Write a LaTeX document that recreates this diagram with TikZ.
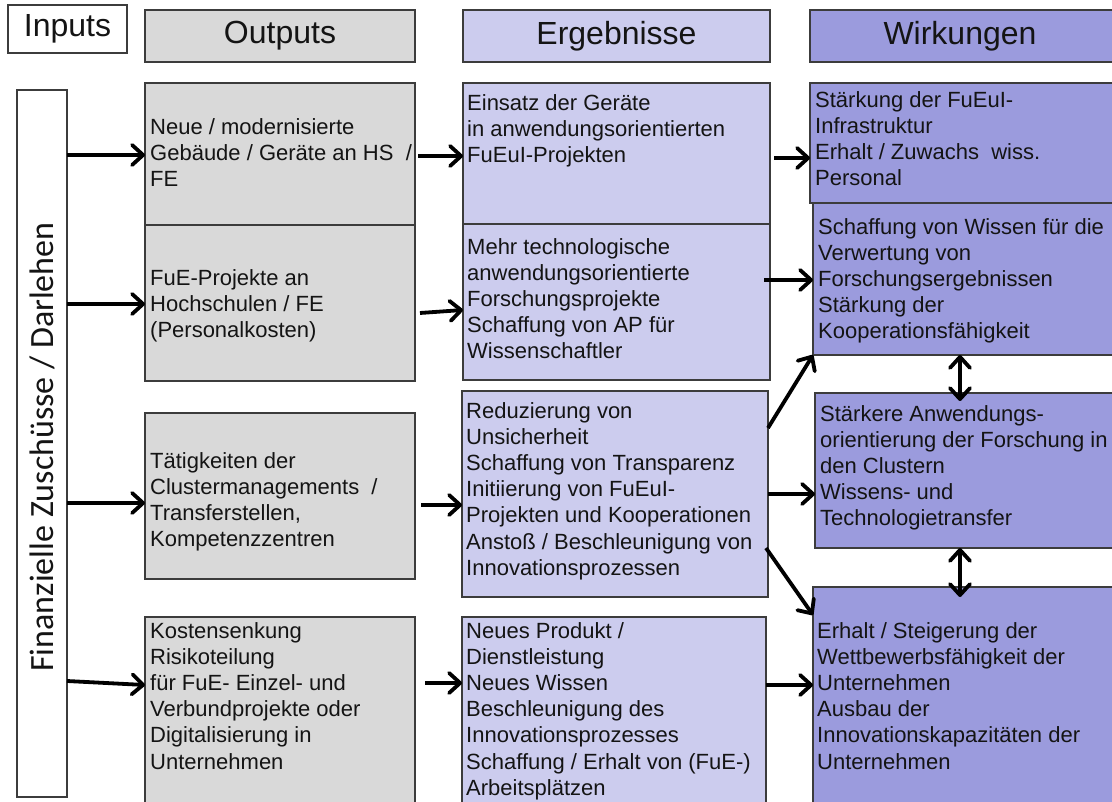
\documentclass[tikz,border=0pt]{standalone}
\usepackage{fontspec}
\setmainfont{Liberation Sans}
\newfontfamily\leftfont{Carlito}
\usetikzlibrary{arrows.meta}
\definecolor{gr}{RGB}{217,217,217}
\definecolor{lv}{RGB}{204,204,238}
\definecolor{dv}{RGB}{155,155,221}
\definecolor{bd}{RGB}{60,60,60}
\definecolor{tx}{RGB}{20,20,20}
\tikzset{
  bx/.style={draw=bd, line width=1.3pt, inner sep=0pt, outer sep=0pt, anchor=north west},
  hd/.style={bx, font=\fontsize{32}{36}\selectfont, text=tx},
  txt/.style={anchor=north west, inner sep=0pt, align=left, text=tx, font=\fontsize{22}{26.2}\selectfont},
  arr/.style={line width=3.8pt, -{Straight Barb[length=11pt,width=20pt,round]}},
  darr/.style={line width=3.8pt, {Straight Barb[length=11pt,width=20pt,round]}-{Straight Barb[length=11pt,width=20pt,round]}},
}
\newcommand{\bxx}[6]{\node[bx, fill=#6, minimum width={(#4-#2)*1pt}, minimum height={(#5-#3)*1pt}] (#1) at (#2,#3) {};}
\begin{document}
\begin{tikzpicture}[x=1pt,y=-1pt]
\useasboundingbox (0,0) rectangle (1112,802);
% headers
\node[hd, fill=white, minimum width=119pt, minimum height=48pt] (hin) at (8,5) {Inputs};
\node[hd, fill=gr, minimum width=270pt, minimum height=52pt] (hout) at (145,10) {Outputs};
\node[hd, fill=lv, minimum width=307pt, minimum height=52pt] (herg) at (463,10) {Ergebnisse};
\node[hd, fill=dv, minimum width=306pt, minimum height=52pt, anchor=north west] (hwir) at (810,10) {};
\node[font=\fontsize{32}{36}\selectfont, text=tx] (hwirt) at (960,36) {Wirkungen};
% input box
\bxx{inp}{17}{90}{67}{797}{white}
\node[rotate=90, font=\leftfont\fontsize{34}{40}\selectfont, text=tx] (inpt) at (42,447) {Finanzielle Zuschüsse / Darlehen};
% outputs
\bxx{o1}{145}{83}{415}{225}{gr}
\bxx{o2}{145}{225}{415}{381}{gr}
\bxx{o3}{145}{413}{415}{579}{gr}
\bxx{o4}{145}{617}{415}{810}{gr}
% ergebnisse
\bxx{e1}{463}{83}{770}{224}{lv}
\bxx{e2}{463}{224}{770}{380}{lv}
\bxx{e3}{462}{391}{768}{597}{lv}
\bxx{e4}{462}{617}{766}{810}{lv}
% wirkungen
\bxx{w1}{810}{83}{1120}{203}{dv}
\bxx{w2}{813}{203}{1120}{355}{dv}
\bxx{w3}{815}{393}{1120}{548}{dv}
\bxx{w4}{813}{587}{1120}{810}{dv}
% texts
\node[txt] (o1t) at (150,118) {Neue / modernisierte\\Gebäude / Geräte an HS~~/\\FE};
\node[txt] (o2t) at (150,269) {FuE-Projekte an\\Hochschulen / FE\\(Personalkosten)};
\node[txt] (o3t) at (150,452) {Tätigkeiten der\\Clustermanagements~~/\\Transferstellen,\\Kompetenzzentren};
\node[txt] (o4t) at (150,622) {Kostensenkung\\Risikoteilung\\für FuE- Einzel- und\\Verbundprojekte oder\\Digitalisierung in\\Unternehmen};
\node[txt] (e1t) at (467,94) {Einsatz der Geräte\\in anwendungsorientierten\\FuEuI-Projekten};
\node[txt] (e2t) at (467,238) {Mehr technologische\\anwendungsorientierte\\Forschungsprojekte\\Schaffung von AP für\\Wissenschaftler};
\node[txt] (e3t) at (466,402) {Reduzierung von\\Unsicherheit\\Schaffung von Transparenz\\Initiierung von FuEuI-\\Projekten und Kooperationen\\Anstoß / Beschleunigung von\\Innovationsprozessen};
\node[txt] (e4t) at (466,622) {Neues Produkt /\\Dienstleistung\\Neues Wissen\\Beschleunigung des\\Innovationsprozesses\\Schaffung / Erhalt von (FuE-)\\Arbeitsplätzen};
\node[txt] (w1t) at (815,91) {Stärkung der FuEuI-\\Infrastruktur\\Erhalt / Zuwachs~~wiss.\\Personal};
\node[txt] (w2t) at (818,218) {Schaffung von Wissen für die\\Verwertung von\\Forschungsergebnissen\\Stärkung der\\Kooperationsfähigkeit};
\node[txt] (w3t) at (820,405) {Stärkere Anwendungs-\\orientierung der Forschung in\\den Clustern\\Wissens- und\\Technologietransfer};
\node[txt] (w4t) at (817,622) {Erhalt / Steigerung der\\Wettbewerbsfähigkeit der\\Unternehmen\\Ausbau der\\Innovationskapazitäten der\\Unternehmen};
% arrows inputs -> outputs
\draw[arr] (inp.east |- 0,155) -- (o1.west |- 0,155);
\draw[arr] (inp.east |- 0,304) -- (o2.west |- 0,304);
\draw[arr] (inp.east |- 0,503) -- (o3.west |- 0,503);
\draw[arr] (inp.east |- 0,681) -- (o4.west |- 0,685);
% outputs -> ergebnisse
\draw[arr] ([xshift=3pt]o1.east |- 0,156) -- (e1.west |- 0,156);
\draw[arr] ([xshift=5pt]o2.east |- 0,313) -- (e2.west |- 0,310);
\draw[arr] ([xshift=6pt]o3.east |- 0,505) -- (e3.west |- 0,505);
\draw[arr] ([xshift=10pt]o4.east |- 0,683) -- (e4.west |- 0,683);
% ergebnisse -> wirkungen
\draw[arr] ([xshift=4pt]e1.east |- 0,158) -- (w1.west |- 0,158);
\draw[arr] ([xshift=-6pt]e2.east |- 0,280) -- (w2.west |- 0,280);
\draw[arr] (e3.east |- 0,428) -- (w2.south west);
\draw[arr] (e3.east |- 0,494) -- (w3.west |- 0,494);
\draw[arr] ([xshift=-2pt]e3.east |- 0,548) -- (w4.west |- 0,615);
\draw[arr] (e4.east |- 0,685) -- (w4.west |- 0,685);
% between wirkungen
\draw[darr] (w2.south -| 960,0) -- ([yshift=-8pt]w3.north -| 960,0);
\draw[darr] (w3.south -| 960,0) -- ([yshift=-10pt]w4.north -| 960,0);
\end{tikzpicture}
\end{document}
